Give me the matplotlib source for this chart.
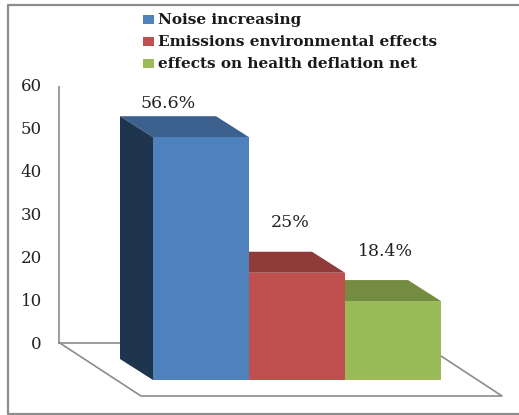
import matplotlib
matplotlib.use('Agg')
import matplotlib.pyplot as plt
from matplotlib.patches import Rectangle, Polygon

categories = ['Noise increasing', 'Emissions environmental effects', 'effects on health deflation net']
values = [56.6, 25, 18.4]
bar_labels = ['56.6%', '25%', '18.4%']
y_ticks = [0, 10, 20, 30, 40, 50, 60]

front_colors = ['#4f81bd', '#c0504d', '#9bbb59']
top_colors = ['#3c618f', '#8f3b39', '#748c42']
side_color = '#1f344d'
line_color = '#8c8c8c'

plt.rcParams['font.family'] = ['DejaVu Serif']

# 1 unidad de valor = 4.29 px, la base frontal de las barras esta en y=380 px
px = 4.29
base = 380
fig = plt.figure(figsize=(5.19, 4.15), dpi=100)
ax = fig.add_axes([0, 0, 1, 1])
ax.set_xlim(0, 519)
ax.set_ylim(-(415 - base) / px, base / px)
ax.axis('off')


def row(y_px):
    return (base - y_px) / px


depth_x = 33
depth_y = 21 / px
bar_w = 96
left = 153
wall_x = 59
wall_zero = row(342.5)
wall_60 = wall_zero + 60

# marco, sin lado derecho
ax.plot([519, 8, 8, 519], [row(5), row(5), row(414), row(414)], color=line_color, lw=1.6, clip_on=False)

# pared y suelo
ax.plot([wall_x, wall_x], [wall_zero, wall_60 - 0.4], color='#a0a0a0', lw=1.5)
ax.plot([wall_x, 120], [wall_zero, wall_zero], color=line_color, lw=1.2)
ax.plot([wall_x, 141, 502, 441], [wall_zero, row(396), row(396), row(356)], color=line_color, lw=1.2)

for t in y_ticks:
    ax.text(42, wall_zero + t - 0.4, str(t), ha='right', va='center', fontsize=12, color='#222222')

# barras, de atras hacia delante
for i, v in enumerate(values):
    x0 = left + i * bar_w
    x1 = x0 + bar_w
    ax.add_patch(Polygon([(x0, v), (x1, v), (x1 - depth_x, v + depth_y), (x0 - depth_x, v + depth_y)],
                         fc=top_colors[i], ec='none', zorder=2))
    if i == 0:
        ax.add_patch(Polygon([(x0, 0), (x0, v), (x0 - depth_x, v + depth_y), (x0 - depth_x, depth_y)],
                             fc=side_color, ec='none', zorder=2))
    ax.add_patch(Rectangle((x0, 0), bar_w, v, fc=front_colors[i], ec='none', zorder=3))

# etiquetas de datos
label_x = [168, 290, 385]
label_gap = [13, 29, 29]
for i, v in enumerate(values):
    ax.text(label_x[i], v + depth_y + label_gap[i] / px, bar_labels[i], ha='center', va='center',
            fontsize=12.5, color='#222222', zorder=4)

# leyenda
legend_y = [19.5, 41.5, 63.5]
for i, c in enumerate(categories):
    yy = row(legend_y[i])
    ax.add_patch(Rectangle((143, yy - 4.5 / px), 11, 9 / px, fc=front_colors[i], ec='none'))
    ax.text(158, yy, c, ha='left', va='center', fontsize=11, fontweight='bold', color='#1a1a1a')

fig.savefig('out.png', dpi=100)
